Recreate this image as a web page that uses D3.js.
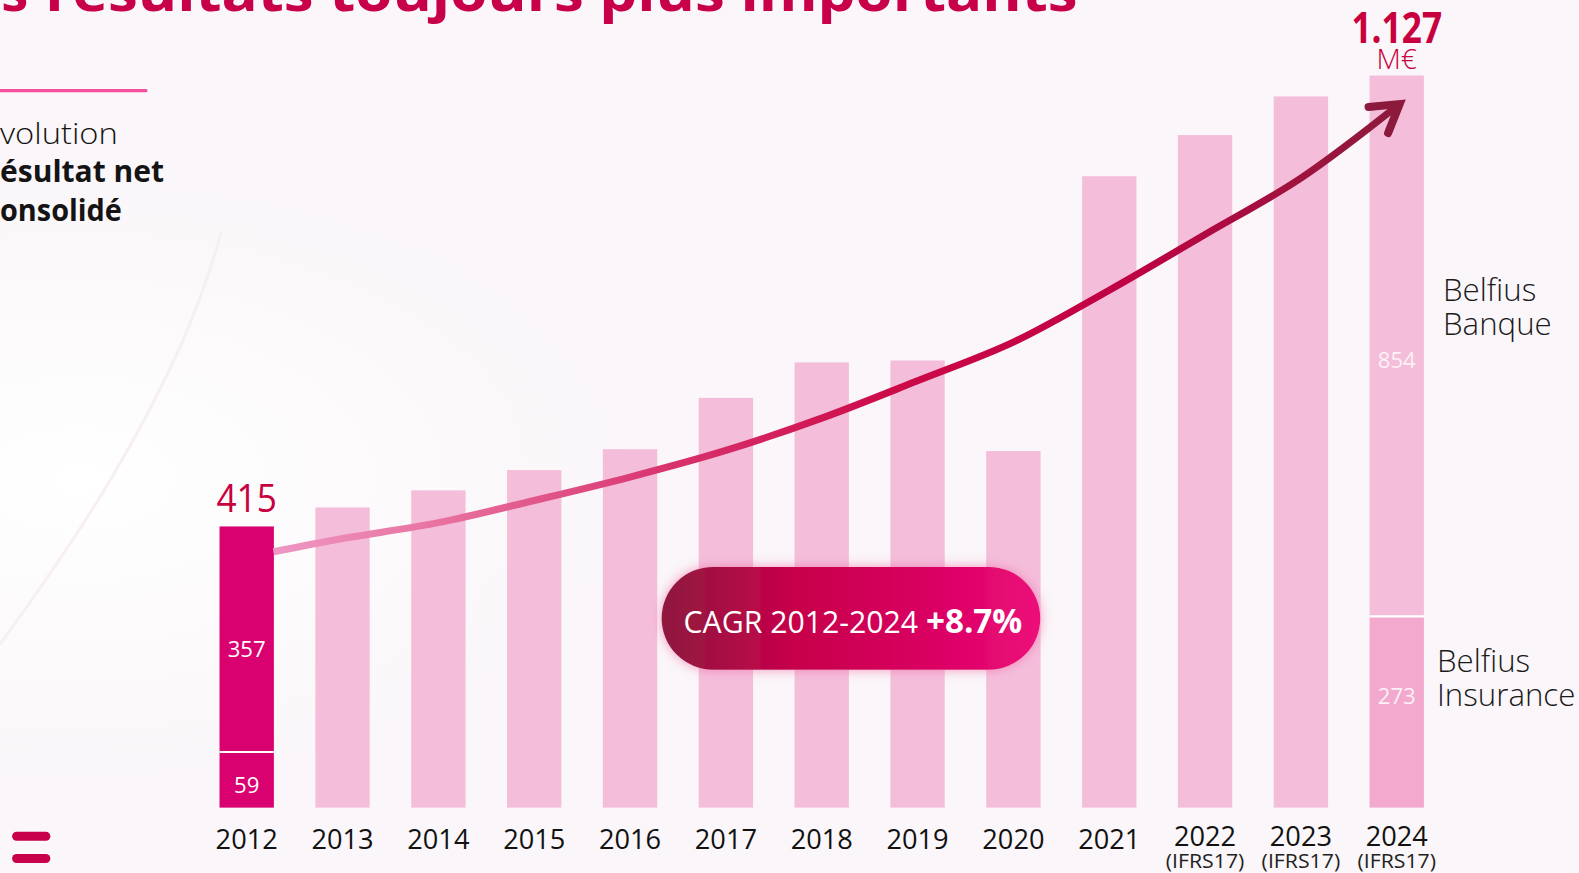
<!DOCTYPE html>
<html><head><meta charset="utf-8">
<script src="https://cdn.jsdelivr.net/npm/d3@7"></script>
<style>
html,body{margin:0;padding:0;overflow:hidden;background:#faf7f9;}
svg{display:block;font-family:'Open Sans','Noto Sans',sans-serif;}
</style></head><body>
<svg id="chart" width="1579" height="873"></svg>
<script>
// ---------- data ----------
const years = ['2012','2013','2014','2015','2016','2017','2018','2019','2020','2021','2022','2023','2024'];
const subLabels = ['','','','','','','','','','','(IFRS17)','(IFRS17)','(IFRS17)'];
const totals = [415, 445, 472, 504, 537, 618, 674, 677, 534, 968, 1033, 1094, 1127];
const stackYears = ['2012', '2024'];
const insuranceValues = [59, 273];
const bankValues = [357, 854];
const totalLabels = ['415', '1.127'];
const seriesNames = [['Belfius','Banque'], ['Belfius','Insurance']];
// growth arrow path (year offset from 2012, value in M€)
const arrowX = [0.28, 1, 2, 3, 4, 5, 6, 7, 8, 9, 10, 11, 12.03];
const arrowV = [375, 396, 421, 456, 493, 535, 586, 645, 706, 788, 876, 965, 1082];
const cagrLabel = 'CAGR 2012-2024 ';
const cagrValue = '+8.7%';
const titlePre = 'Des';
const titleText = 'résultats toujours plus importants';
const sideText = ['Évolution', 'résultat net', 'consolidé'];

// ---------- setup ----------
const W = 1579, H = 873;
const root = d3.select('#chart');
const defs = root.append('defs');
const bg = defs.append('radialGradient').attr('id','bgGrad').attr('cx','0.05').attr('cy','0.55').attr('r','0.35');
bg.append('stop').attr('offset','0').attr('stop-color','#ffffff');
bg.append('stop').attr('offset','1').attr('stop-color','#faf6f9');
root.append('rect').attr('width',W).attr('height',H).attr('fill','#faf7f9');
root.append('rect').attr('width',W).attr('height',H).attr('fill','url(#bgGrad)');
const svg = root.append('g').attr('transform', `scale(${W/1568})`);

function fitCut(sel, x1, visibleWidth) {
  const node = sel.node();
  const full = node.getComputedTextLength();
  const first = node.getSubStringLength(0, 1);
  const s = visibleWidth / (full - first);
  const L = full * s;
  sel.attr('x', x1 - L).attr('textLength', L).attr('lengthAdjust', 'spacingAndGlyphs').attr('text-anchor', 'start');
}

svg.append('path')
  .attr('d', d3.line().curve(d3.curveBasis)([[220,230],[190,330],[100,500],[0,640]]))
  .attr('fill','none').attr('stroke','#f6eef2').attr('stroke-width',3).attr('opacity',0.9);

// scales
const baseY = 802, topY = 75;
const x = d3.scaleBand().domain(years).range([218, 1414]).paddingInner(0.433).paddingOuter(0);
const y = d3.scaleLinear().domain([-29, 1127]).range([baseY, topY]);
const bw = x.bandwidth();
const xc = d => x(d) + bw / 2;
const xYear = d3.scaleLinear().domain([0, 12]).range([xc(years[0]), xc(years[12])]);

const cLight = '#f4bedb', cIns24 = '#f3a9cd', c2012 = '#d9006f', crimson = '#c8003e';

// ---------- bars ----------
const bars = svg.append('g');
bars.selectAll('rect.total').data(years.map((yr,i)=>({yr, v: totals[i]})).filter(d => !stackYears.includes(d.yr)))
  .join('rect').attr('class','total')
  .attr('x', d => x(d.yr)).attr('width', bw)
  .attr('y', d => y(d.v)).attr('height', d => baseY - y(d.v))
  .attr('fill', cLight);

const bankLabelShift = [10, 14], insLabelShift = [5, -16];
stackYears.forEach((yr, i) => {
  const tot = totals[years.indexOf(yr)];
  const split = y(insuranceValues[i]);
  const topCol = i === 0 ? c2012 : cLight;
  const botCol = i === 0 ? c2012 : cIns24;
  bars.append('rect').attr('x', x(yr)).attr('width', bw).attr('y', y(tot)).attr('height', split - y(tot)).attr('fill', topCol);
  bars.append('rect').attr('x', x(yr)).attr('width', bw).attr('y', split).attr('height', baseY - split).attr('fill', botCol);
  bars.append('line').attr('x1', x(yr)).attr('x2', x(yr) + bw).attr('y1', split).attr('y2', split)
    .attr('stroke', '#ffffff').attr('stroke-width', 2);
  const txtCol = i === 0 ? '#ffffff' : '#fdf0f6';
  bars.append('text').attr('x', xc(yr)).attr('y', (y(tot) + split) / 2 + bankLabelShift[i])
    .attr('dy','0.35em').attr('text-anchor','middle').attr('font-size', 22).attr('fill', txtCol).text(bankValues[i]);
  bars.append('text').attr('x', xc(yr)).attr('y', (split + baseY) / 2 + insLabelShift[i])
    .attr('dy','0.35em').attr('text-anchor','middle').attr('font-size', 22).attr('fill', txtCol).text(insuranceValues[i]);
});

// total labels
svg.append('text').attr('x', xc('2012') - 30).attr('y', y(totals[0]) - 14)
  .attr('font-size', 38).attr('font-weight', 500).attr('fill', crimson)
  .attr('textLength', 60).attr('lengthAdjust','spacingAndGlyphs').text(totalLabels[0]);
svg.append('text').attr('x', xc('2024') - 45).attr('y', 43)
  .attr('font-size', 43).attr('font-weight', 700).attr('fill', crimson)
  .attr('textLength', 90).attr('lengthAdjust','spacingAndGlyphs').text(totalLabels[1]);
svg.append('text').attr('x', xc('2024')).attr('y', 69)
  .attr('text-anchor','middle').attr('font-size', 28).attr('font-weight', 300).attr('fill', crimson).text('M€');

// series labels
[[1433, 299], [1427, 667]].forEach((p, i) => {
  const t = svg.append('text').attr('x', p[0]).attr('y', p[1]).attr('font-size', 31).attr('font-weight', 300).attr('fill', '#1a1a1a');
  seriesNames[i].forEach((s, j) => t.append('tspan').attr('x', p[0]).attr('dy', j ? 34 : 0).text(s));
});

// ---------- x axis ----------
const axis = svg.append('g').attr('transform', `translate(0,${baseY})`)
  .call(d3.axisBottom(x).tickSize(0).tickPadding(36));
axis.select('.domain').remove();
axis.selectAll('.tick text').attr('font-size', 27).attr('fill', '#111')
  .attr('font-family', "'Open Sans','Noto Sans',sans-serif")
  .attr('dy', (d, i) => subLabels[i] ? '0.08em' : '0.2em');
svg.append('g').selectAll('text').data(years.map((yr,i)=>({yr, s: subLabels[i]})).filter(d => d.s))
  .join('text').attr('x', d => xc(d.yr) - 39).attr('y', 862)
  .attr('font-size', 19).attr('fill', '#222')
  .attr('textLength', 78).attr('lengthAdjust','spacingAndGlyphs').text(d => d.s);

// ---------- growth arrow ----------
const ag = defs.append('linearGradient').attr('id','arrowGrad').attr('gradientUnits','userSpaceOnUse')
  .attr('x1', xYear(arrowX[0])).attr('x2', xYear(arrowX[arrowX.length-1])).attr('y1', 0).attr('y2', 0);
[[0,'#ee97c3'],[0.15,'#e8719f'],[0.35,'#d8336e'],[0.55,'#cc0a48'],[0.75,'#c00044'],[0.9,'#a0123e'],[1,'#8c1a3c']]
  .forEach(s => ag.append('stop').attr('offset', s[0]).attr('stop-color', s[1]));
const pts = arrowX.map((d, i) => [xYear(d), y(arrowV[i])]);
svg.append('path').attr('d', d3.line().curve(d3.curveCatmullRom)(pts))
  .attr('fill','none').attr('stroke','url(#arrowGrad)').attr('stroke-width', 7).attr('stroke-linecap','butt');
const tip = pts[pts.length-1], prev = pts[pts.length-2];
const ang = Math.atan2(tip[1]-prev[1], tip[0]-prev[0]) + Math.PI;
const armLen = 31, spread = 0.55;
const arm = a => [tip[0] + armLen*Math.cos(a), tip[1] + armLen*Math.sin(a)];
svg.append('path').attr('d', d3.line()([arm(ang - spread), tip, arm(ang + spread)]))
  .attr('fill','none').attr('stroke','#8c1a3c').attr('stroke-width', 8)
  .attr('stroke-linecap','round').attr('stroke-linejoin','miter');

// ---------- CAGR pill ----------
const pg = defs.append('linearGradient').attr('id','pillGrad');
[[0,'#8e1a3e'],[0.35,'#c7004a'],[0.6,'#d3005a'],[1,'#ec0a7a']].forEach(s => pg.append('stop').attr('offset', s[0]).attr('stop-color', s[1]));
const glow = defs.append('filter').attr('id','glow').attr('x','-20%').attr('y','-40%').attr('width','140%').attr('height','180%');
glow.append('feDropShadow').attr('dx',0).attr('dy',0).attr('stdDeviation',6).attr('flood-color','#f06aa8').attr('flood-opacity',0.7);
const pill = {cx: 845, cy: 614, w: 376, h: 102};
svg.append('rect').attr('x', pill.cx - pill.w/2).attr('y', pill.cy - pill.h/2).attr('width', pill.w).attr('height', pill.h)
  .attr('rx', pill.h/2).attr('fill','url(#pillGrad)').attr('filter','url(#glow)');
const pt = svg.append('text').attr('x', pill.cx + 2).attr('y', pill.cy + 15).attr('text-anchor','middle').attr('fill','#fff');
pt.append('tspan').attr('font-size', 30).text(cagrLabel);
pt.append('tspan').attr('font-size', 33).attr('font-weight', 700).text(cagrValue);

// ---------- title & side text ----------
const tg = svg.append('g').attr('fill', '#c8004a').attr('font-size', 54).attr('font-weight', 700);
tg.append('text').attr('x', 45).attr('y', 11).attr('textLength', 1025).attr('lengthAdjust','spacingAndGlyphs').text(titleText);
tg.append('text').attr('x', 28).attr('y', 11).attr('text-anchor','end').text(titlePre);

const sideG = svg.append('g').attr('fill', '#141414').attr('font-size', 30);
const s0 = sideG.append('text').attr('y', 143).attr('font-weight', 300).text(sideText[0]);
fitCut(s0, 117, 117);
const s1 = sideG.append('text').attr('y', 181).attr('font-weight', 700).text(sideText[1]);
fitCut(s1, 163, 163);
const s2 = sideG.append('text').attr('y', 219).attr('font-weight', 700).text(sideText[2]);
fitCut(s2, 121, 121);

// pink accent line
const lg = defs.append('filter').attr('id','lineGlow').attr('x','-10%').attr('y','-300%').attr('width','120%').attr('height','700%');
lg.append('feGaussianBlur').attr('stdDeviation', 3);
svg.append('line').attr('x1', 0).attr('x2', 145).attr('y1', 90).attr('y2', 90)
  .attr('stroke', '#ffb3d6').attr('stroke-width', 8).attr('filter','url(#lineGlow)');
svg.append('line').attr('x1', 0).attr('x2', 145).attr('y1', 90).attr('y2', 90)
  .attr('stroke', '#f5509f').attr('stroke-width', 3).attr('stroke-linecap','round');

// bottom-left icon
svg.append('g').selectAll('rect').data([0, 1]).join('rect')
  .attr('x', 12).attr('y', d => 826 + d * 22).attr('width', 38).attr('height', 9).attr('rx', 4.5).attr('fill', '#c8004b');
</script>
</body></html>
